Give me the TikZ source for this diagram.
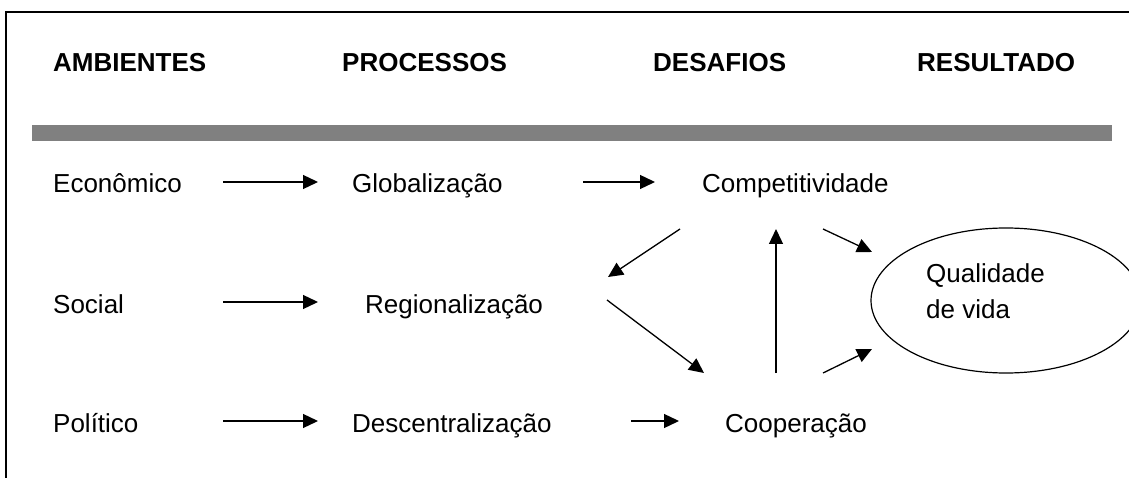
\documentclass[tikz,border=0pt]{standalone}
\usepackage{fontspec}
\setmainfont{Liberation Sans}
\usetikzlibrary{arrows.meta,shapes.geometric}
\begin{document}
\begin{tikzpicture}[x=1pt,y=-1pt,
  lbl/.style={anchor=base west,inner sep=0pt,font=\fontsize{26}{30}\selectfont},
  hdr/.style={anchor=base west,inner sep=0pt,font=\fontsize{26}{30}\selectfont\bfseries},
  conn/.style={line width=1.3pt,-{Triangle[length=15pt,width=14pt]}},
  frame/.style={line width=1.3pt}]
\useasboundingbox (0,0) rectangle (1129,478);
% frame (top and left edges)
\draw[frame] (6,478) -- (6,12) -- (1129,12);
% headers
\node[hdr] (h1) at (53,72) {AMBIENTES};
\node[hdr] (h2) at (342,72) {PROCESSOS};
\node[hdr] (h3) at (653,72) {DESAFIOS};
\node[hdr] (h4) at (917,72) {RESULTADO};
% gray bar
\fill[fill={rgb,255:red,128;green,128;blue,128}] (32,125) rectangle (1112,141);
% row texts
\node[lbl] (eco) at (53,193) {Econômico};
\node[lbl] (glo) at (352,193) {Globalização};
\node[lbl] (comp) at (702,193) {Competitividade};
\node[lbl] (soc) at (53,313) {Social};
\node[lbl] (reg) at (365,313) {Regionalização};
\node[lbl] (pol) at (53,432) {Político};
\node[lbl] (desc) at (352,432) {Descentralização};
\node[lbl] (coop) at (725,432) {Cooperação};
% ellipse
\node[draw,ellipse,line width=1.2pt,minimum width=270pt,minimum height=145pt,inner sep=0pt] (qv) at (1006,300.5) {};
\node[lbl] (qv1) at (926,283) {Qualidade};
\node[lbl] (qv2) at (926,318) {de vida};
% arrow end points
\coordinate (a1s) at (223,182); \coordinate (a1e) at (318,182);
\coordinate (a2s) at (583,182); \coordinate (a2e) at (655,182);
\coordinate (a3s) at (223,302); \coordinate (a3e) at (318,302);
\coordinate (a4s) at (223,421); \coordinate (a4e) at (318,421);
\coordinate (a5s) at (631,421); \coordinate (a5e) at (679,421);
\coordinate (d1s) at (680,229); \coordinate (d1e) at (608,277);
\coordinate (d2s) at (607,300); \coordinate (d2e) at (704,373);
\coordinate (d3s) at (776,373); \coordinate (d3e) at (776,229);
\coordinate (d4s) at (823,229); \coordinate (d4e) at (872,252);
\coordinate (d5s) at (823,373); \coordinate (d5e) at (872,349);
\draw[conn] (a1s) -- (a1e);
\draw[conn] (a2s) -- (a2e);
\draw[conn] (a3s) -- (a3e);
\draw[conn] (a4s) -- (a4e);
\draw[conn] (a5s) -- (a5e);
\draw[conn] (d1s) -- (d1e);
\draw[conn] (d2s) -- (d2e);
\draw[conn] (d3s) -- (d3e);
\draw[conn] (d4s) -- (d4e);
\draw[conn] (d5s) -- (d5e);
\end{tikzpicture}
\end{document}
